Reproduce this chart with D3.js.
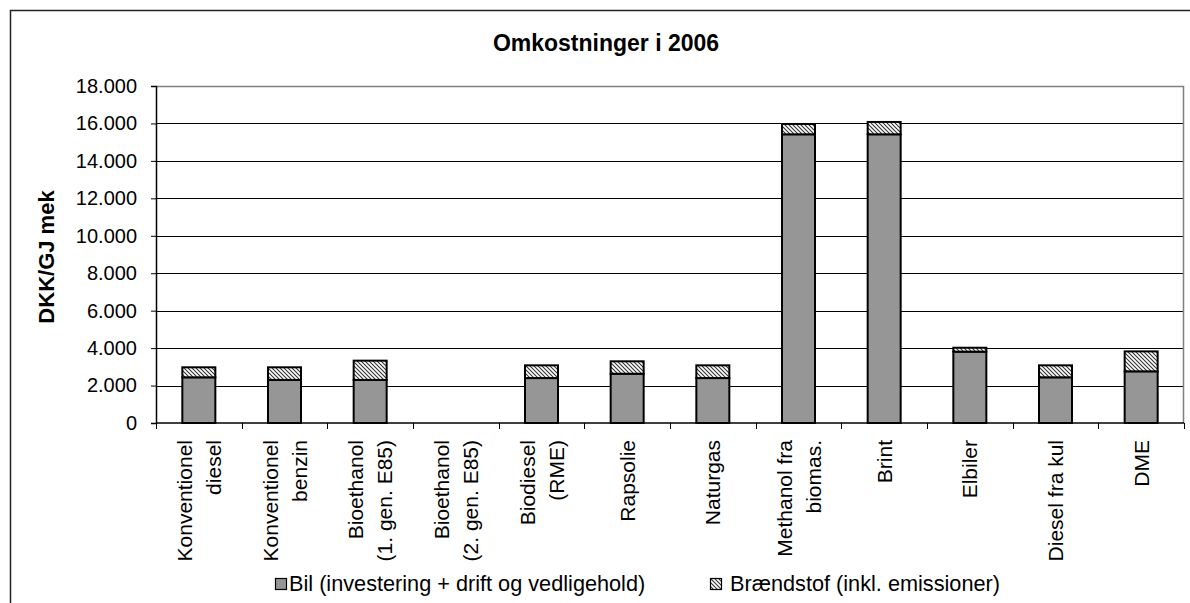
<!DOCTYPE html>
<html>
<head>
<meta charset="utf-8">
<script src="https://cdn.jsdelivr.net/npm/d3@7"></script>
<style>
  body { margin: 0; background: #fff; }
  svg { display: block; font-family: "Liberation Sans", Arial, sans-serif; }
</style>
</head>
<body>
<script>
// categories (line breaks as in the original axis labels)
const categories = [
  ['Konventionel', 'diesel'],
  ['Konventionel', 'benzin'],
  ['Bioethanol', '(1. gen. E85)'],
  ['Bioethanol', '(2. gen. E85)'],
  ['Biodiesel', '(RME)'],
  ['Rapsolie'],
  ['Naturgas'],
  ['Methanol fra', 'biomas.'],
  ['Brint'],
  ['Elbiler'],
  ['Diesel fra kul'],
  ['DME'],
];
const bil = [2440, 2300, 2300, 0, 2400, 2630, 2400, 15420, 15420, 3810, 2440, 2760];
const braendstof = [535, 675, 1030, 0, 680, 665, 680, 550, 660, 210, 640, 1065];
const seriesNames = [
  'Bil (investering + drift og vedligehold)',
  'Brændstof (inkl. emissioner)',
];
const yTicks = [0, 2000, 4000, 6000, 8000, 10000, 12000, 14000, 16000, 18000];

const W = 1190, H = 603;
const plot = { left: 156, right: 1184, top: 86, bottom: 423 };

const svg = d3.select('body').append('svg').attr('width', W).attr('height', H);

// hatch pattern for fuel series
const defs = svg.append('defs');
const pat = defs.append('pattern')
  .attr('id', 'hatch')
  .attr('patternUnits', 'userSpaceOnUse')
  .attr('width', 4).attr('height', 4);
pat.append('rect').attr('width', 4).attr('height', 4).attr('fill', '#fff');
pat.append('path')
  .attr('d', 'M-1,-1 L5,5 M-1,3 L1,5 M3,-1 L5,1')
  .attr('stroke', '#333').attr('stroke-width', 1.1);

// outer chart frame
svg.append('rect')
  .attr('x', 10.5).attr('y', 10.5)
  .attr('width', 1200).attr('height', 620)
  .attr('fill', 'none').attr('stroke', '#222').attr('stroke-width', 1.5);

const x = d3.scaleBand()
  .domain(d3.range(categories.length))
  .range([plot.left, plot.right]);

const y = d3.scaleLinear()
  .domain([0, 18000])
  .range([plot.bottom, plot.top]);

const locale = d3.formatLocale({ decimal: ',', thousands: '.', grouping: [3], currency: ['', ''] });
const fmt = locale.format(',');

// gridlines
svg.append('g')
  .selectAll('line')
  .data(yTicks.filter((d) => d > 0 && d < 18000))
  .join('line')
  .attr('x1', plot.left).attr('x2', plot.right)
  .attr('y1', (d) => Math.round(y(d)) + 0.5).attr('y2', (d) => Math.round(y(d)) + 0.5)
  .attr('stroke', '#000').attr('stroke-width', 1);

// plot area border (top + right in grey)
svg.append('path')
  .attr('d', `M${plot.left},${plot.top + 0.5}H${plot.right - 0.5}V${plot.bottom}`)
  .attr('fill', 'none').attr('stroke', '#808080').attr('stroke-width', 1.5);

// bars
const barW = 33;
const bars = svg.append('g');
categories.forEach((c, i) => {
  const bx = x(i) + x.bandwidth() / 2 - barW / 2;
  if (bil[i] > 0) {
    bars.append('rect')
      .attr('x', bx).attr('y', y(bil[i]))
      .attr('width', barW).attr('height', y(0) - y(bil[i]))
      .attr('fill', '#969696').attr('stroke', '#000').attr('stroke-width', 2);
  }
  if (braendstof[i] > 0) {
    bars.append('rect')
      .attr('x', bx).attr('y', y(bil[i] + braendstof[i]))
      .attr('width', barW).attr('height', y(bil[i]) - y(bil[i] + braendstof[i]))
      .attr('fill', 'url(#hatch)').attr('stroke', '#000').attr('stroke-width', 2);
  }
});

// y axis
const yAxis = svg.append('g')
  .attr('transform', `translate(${plot.left},0)`)
  .call(d3.axisLeft(y).tickValues(yTicks).tickFormat(fmt).tickSize(5).tickPadding(14));
yAxis.select('.domain').attr('stroke', '#000').attr('stroke-width', 1.5);
yAxis.selectAll('.tick line').attr('stroke', '#000');
yAxis.selectAll('.tick text')
  .attr('font-size', 20).attr('fill', '#000')
  .style('font-family', '"Liberation Sans", Arial, sans-serif');

// x axis (ticks at category boundaries)
const xb = svg.append('g').attr('transform', `translate(0,${plot.bottom})`);
xb.append('line')
  .attr('x1', plot.left).attr('x2', plot.right)
  .attr('stroke', '#000').attr('stroke-width', 1.5);
xb.selectAll('.xt')
  .data(d3.range(categories.length + 1))
  .join('line')
  .attr('class', 'xt')
  .attr('x1', (d) => Math.round(plot.left + d * x.step()) + 0.5)
  .attr('x2', (d) => Math.round(plot.left + d * x.step()) + 0.5)
  .attr('y1', 0).attr('y2', 6)
  .attr('stroke', '#000').attr('stroke-width', 1);

// x labels, rotated
const lineGap = 29;
categories.forEach((lines, i) => {
  const cx = x(i) + x.bandwidth() / 2;
  lines.forEach((t, j) => {
    const px = cx + (j - (lines.length - 1) / 2) * lineGap;
    svg.append('text')
      .attr('transform', `translate(${px},440) rotate(-90)`)
      .attr('text-anchor', 'end')
      .attr('dy', '0.36em')
      .attr('font-size', 21)
      .text(t);
  });
});

// title
svg.append('text')
  .attr('x', 606).attr('y', 51)
  .attr('text-anchor', 'middle')
  .attr('font-size', 23).attr('font-weight', 'bold')
  .text('Omkostninger i 2006');

// y label
svg.append('text')
  .attr('transform', 'translate(46,257) rotate(-90)')
  .attr('text-anchor', 'middle')
  .attr('dy', '0.36em')
  .attr('font-size', 22).attr('font-weight', 'bold')
  .text('DKK/GJ mek');

// legend
const legendX = [275, 710];
const legend = svg.append('g');
seriesNames.forEach((name, i) => {
  legend.append('rect')
    .attr('x', legendX[i] + 0.5).attr('y', 578.5)
    .attr('width', 11).attr('height', 11)
    .attr('fill', i === 0 ? '#969696' : 'url(#hatch)')
    .attr('stroke', '#000').attr('stroke-width', 1.2);
  legend.append('text')
    .attr('x', legendX[i] + (i === 0 ? 14 : 20)).attr('y', 591)
    .attr('font-size', 21.7)
    .text(name);
});
</script>
</body>
</html>
